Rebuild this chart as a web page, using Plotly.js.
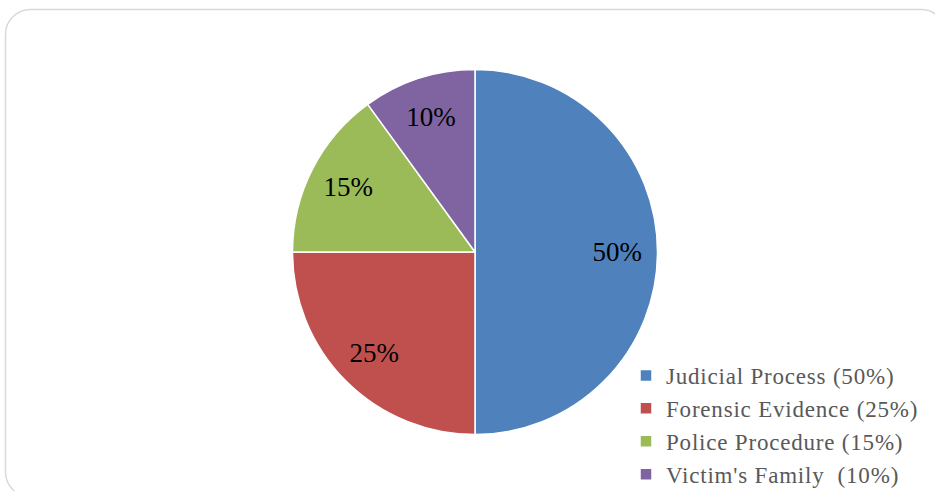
<!DOCTYPE html>
<html>
<head>
<meta charset="utf-8">
<script src="https://cdn.plot.ly/plotly-3.0.1.min.js"></script>
<style>
  html, body { margin: 0; padding: 0; background: #ffffff; }
  #chart { width: 935px; height: 491px; }
  #chart .legendtext { letter-spacing: 0.8px; }
  #chart .legend .scrollbox, #chart .legend { clip-path: none !important; }
</style>
</head>
<body>
<div id="chart"></div>
<script>
const categories = ['Judicial Process (50%)', 'Forensic Evidence (25%)', 'Police Procedure (15%)', 'Victim\'s Family\u00A0 (10%)'];
const shares = [50, 25, 15, 10];
const sliceColors = ['#4F81BD', '#C0504D', '#9BBB59', '#8064A2'];

const W = 935, H = 491;
const cx = 475, cy = 252, r = 182.5;

function px(x) { return x / W; }
function py(y) { return 1 - y / H; }

// rounded border frame
const L = 5.5, T = 9.5, R = 946, B = 497, rad = 25, k = 0.5523 * rad;
const framePath =
  'M' + px(L + rad) + ',' + py(T) +
  ' L' + px(R - rad) + ',' + py(T) +
  ' C' + px(R - rad + k) + ',' + py(T) + ' ' + px(R) + ',' + py(T + rad - k) + ' ' + px(R) + ',' + py(T + rad) +
  ' L' + px(R) + ',' + py(B - rad) +
  ' C' + px(R) + ',' + py(B - rad + k) + ' ' + px(R - rad + k) + ',' + py(B) + ' ' + px(R - rad) + ',' + py(B) +
  ' L' + px(L + rad) + ',' + py(B) +
  ' C' + px(L + rad - k) + ',' + py(B) + ' ' + px(L) + ',' + py(B - rad + k) + ' ' + px(L) + ',' + py(B - rad) +
  ' L' + px(L) + ',' + py(T + rad) +
  ' C' + px(L) + ',' + py(T + rad - k) + ' ' + px(L + rad - k) + ',' + py(T) + ' ' + px(L + rad) + ',' + py(T) + ' Z';

const dom = { x: [px(cx - r), px(cx + r)], y: [py(cy + r), py(cy - r)] };

// filled pie (slices + legend)
const pieTrace = {
  type: 'pie',
  labels: categories,
  values: shares,
  sort: false,
  direction: 'clockwise',
  rotation: 0,
  marker: { colors: sliceColors, line: { color: '#ffffff', width: 1.5 } },
  textinfo: 'none',
  domain: dom,
  hoverinfo: 'label+percent'
};

// transparent ring carrying the percentage labels (places them at ~0.78 r)
const labelTrace = {
  type: 'pie',
  labels: categories,
  values: shares,
  sort: false,
  direction: 'clockwise',
  rotation: 0,
  hole: 0.56,
  showlegend: false,
  marker: { colors: sliceColors.map(() => 'rgba(0,0,0,0)'), line: { width: 0 } },
  textinfo: 'percent',
  textposition: 'inside',
  insidetextorientation: 'horizontal',
  textfont: { family: 'Liberation Serif, serif', size: 27, color: '#000000' },
  domain: dom,
  hoverinfo: 'skip'
};

const layout = {
  width: W,
  height: H,
  margin: { l: 0, r: 0, t: 0, b: 0, autoexpand: false },
  paper_bgcolor: '#ffffff',
  showlegend: true,
  legend: {
    x: px(626), y: py(354), xanchor: 'left', yanchor: 'top',
    font: { family: 'Liberation Serif, serif', size: 23, color: '#595959' },
    bgcolor: 'rgba(0,0,0,0)',
    tracegroupgap: 0
  },
  shapes: [{
    type: 'path', xref: 'paper', yref: 'paper', path: framePath,
    line: { color: '#d9d9d9', width: 1.5 }, fillcolor: 'rgba(0,0,0,0)', layer: 'below'
  }]
};

Plotly.newPlot('chart', [pieTrace, labelTrace], layout, { displayModeBar: false, staticPlot: true });
</script>
</body>
</html>
